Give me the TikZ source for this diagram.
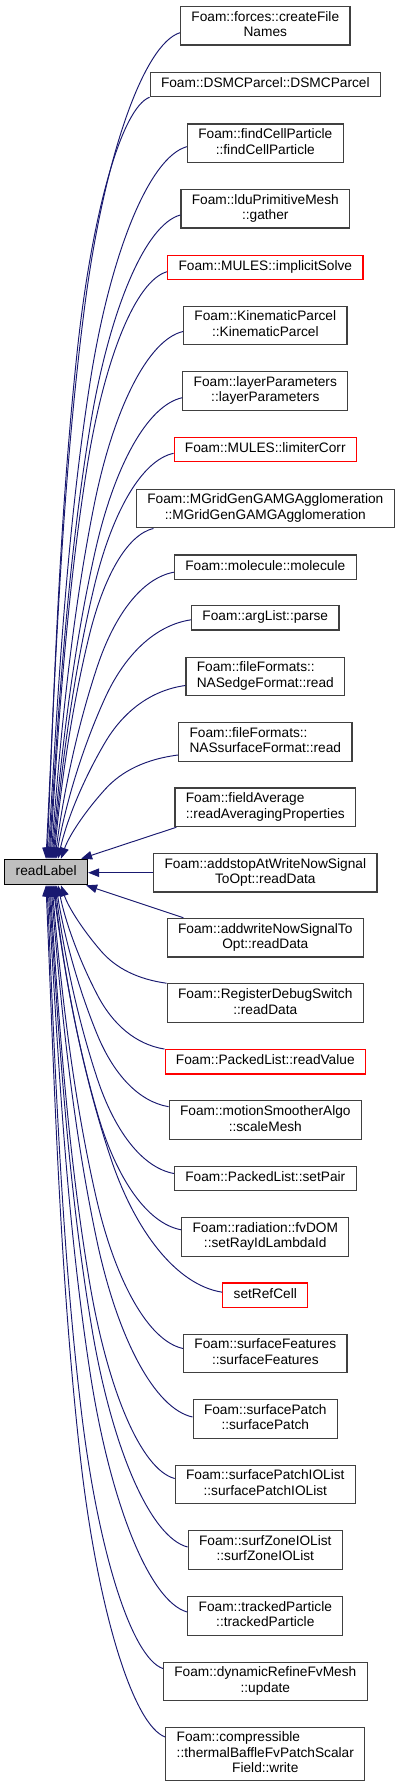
\documentclass[tikz,border=0pt]{standalone}
\usepackage{fontspec}
\setmainfont{Liberation Sans}
\usetikzlibrary{arrows.meta,calc}
\definecolor{edgeblue}{RGB}{25,25,112}
\definecolor{boxgray}{RGB}{64,64,64}
\definecolor{fillgray}{RGB}{191,191,191}
\newcommand\lone[1]{\begin{tabular}{@{}c@{}}#1\end{tabular}}
\newcommand\ltwo[2]{\begin{tabular}{@{}l@{}}#1\\\multicolumn{1}{@{}c@{}}{#2}\end{tabular}}
\newcommand\lthree[3]{\begin{tabular}{@{}l@{}}#1\\#2\\\multicolumn{1}{@{}c@{}}{#3}\end{tabular}}
\newcommand\upedge[2]{%
  \draw[edge] let \p1=(#1), \p2=([xshift=#2pt]R.north west),
    \n1={\x1-\x2}, \n2={\y1-\y2}, \n3={\n2/825},
    \n4={\x2+(0.39-0.1*\n3)*\n1}, \n5={\y1-0.33*\n2} in
    (\p1) .. controls ({\x1-0.27*\n1}, {\y1-3-0.01*\n2}) and ({\n4+0.144*\n1}, {\n5+0.18*\n2}) .. (\n4,\n5)
          .. controls ({\n4-0.176*\n1}, {\n5-0.22*\n2}) and ({\x2+0.068*\n1}, {\y2+0.22*\n2}) .. (\p2);}
\newcommand\downedge[2]{%
  \draw[edge] let \p1=(#1), \p2=([xshift=#2pt]R.south west),
    \n1={\x1-\x2}, \n2={\y2-\y1}, \n3={\n2/825},
    \n4={\x2+(0.39-0.1*\n3)*\n1}, \n5={\y1+0.33*\n2} in
    (\p1) .. controls ({\x1-0.27*\n1}, {\y1+3+0.01*\n2}) and ({\n4+0.144*\n1}, {\n5-0.18*\n2}) .. (\n4,\n5)
          .. controls ({\n4-0.176*\n1}, {\n5+0.22*\n2}) and ({\x2+0.068*\n1}, {\y2-0.22*\n2}) .. (\p2);}
\begin{document}
\begin{tikzpicture}[x=1pt,y=-1pt,
  box/.style={draw=boxgray, line width=1.2pt, inner xsep=10.85pt, inner ysep=0pt,
    font=\fontsize{13.7}{15.5}\selectfont},
  hone/.style={box, minimum height=24.3pt},
  htwo/.style={box, minimum height=38.7pt},
  hthree/.style={box, minimum height=53.3pt},
  redbox/.style={draw=red},
  edge/.style={draw=edgeblue, line width=0.95pt, -{Triangle[length=11pt,width=8.5pt]}},
]
\useasboundingbox (0,0) rectangle (400,1787);
\fill[white] (0,0) rectangle (400,1787);

\node[box, draw=black, fill=fillgray, minimum width=81.8pt, minimum height=25.4pt] (R) at (46.2,872) {\lone{readLabel}};

\node[htwo] (n1) at (265.3,25.7) {\ltwo{Foam::forces::createFile}{Names}};
\node[hone] (n2) at (265.3,84.5) {\lone{Foam::DSMCParcel::DSMCParcel}};
\node[htwo] (n3) at (265.3,143.3) {\ltwo{Foam::findCellParticle}{::findCellParticle}};
\node[htwo] (n4) at (265.3,208.7) {\ltwo{Foam::lduPrimitiveMesh}{::gather}};
\node[hone,redbox] (n5) at (265.3,267.3) {\lone{Foam::MULES::implicitSolve}};
\node[htwo] (n6) at (265.3,325.5) {\ltwo{Foam::KinematicParcel}{::KinematicParcel}};
\node[htwo] (n7) at (265.3,391) {\ltwo{Foam::layerParameters}{::layerParameters}};
\node[hone,redbox] (n8) at (265.3,449.7) {\lone{Foam::MULES::limiterCorr}};
\node[htwo] (n9) at (265.3,508.5) {\ltwo{Foam::MGridGenGAMGAgglomeration}{::MGridGenGAMGAgglomeration}};
\node[hone] (n10) at (265.3,567.2) {\lone{Foam::molecule::molecule}};
\node[hone] (n11) at (265.3,617.8) {\lone{Foam::argList::parse}};
\node[htwo] (n12) at (265.3,676.5) {\ltwo{Foam::fileFormats::}{NASedgeFormat::read}};
\node[htwo] (n13) at (265.3,742) {\ltwo{Foam::fileFormats::}{NASsurfaceFormat::read}};
\node[htwo] (n14) at (265.3,807.3) {\ltwo{Foam::fieldAverage}{::readAveragingProperties}};
\node[htwo] (n15) at (265.3,872.7) {\ltwo{Foam::addstopAtWriteNowSignal}{ToOpt::readData}};
\node[htwo] (n16) at (265.3,937.7) {\ltwo{Foam::addwriteNowSignalTo}{Opt::readData}};
\node[htwo] (n17) at (265.3,1003.2) {\ltwo{Foam::RegisterDebugSwitch}{::readData}};
\node[hone,redbox] (n18) at (265.3,1061.8) {\lone{Foam::PackedList::readValue}};
\node[htwo] (n19) at (265.3,1120.2) {\ltwo{Foam::motionSmootherAlgo}{::scaleMesh}};
\node[hone] (n20) at (265.3,1178.5) {\lone{Foam::PackedList::setPair}};
\node[htwo] (n21) at (265.3,1236.8) {\ltwo{Foam::radiation::fvDOM}{::setRayIdLambdaId}};
\node[hone,redbox] (n22) at (265.3,1295.2) {\lone{setRefCell}};
\node[htwo] (n23) at (265.3,1353.5) {\ltwo{Foam::surfaceFeatures}{::surfaceFeatures}};
\node[htwo] (n24) at (265.3,1419) {\ltwo{Foam::surfacePatch}{::surfacePatch}};
\node[htwo] (n25) at (265.3,1484.5) {\ltwo{Foam::surfacePatchIOList}{::surfacePatchIOList}};
\node[htwo] (n26) at (265.3,1550) {\ltwo{Foam::surfZoneIOList}{::surfZoneIOList}};
\node[htwo] (n27) at (265.3,1616) {\ltwo{Foam::trackedParticle}{::trackedParticle}};
\node[htwo] (n28) at (265.3,1681.5) {\ltwo{Foam::dynamicRefineFvMesh}{::update}};
\node[hthree] (n29) at (265.3,1754) {\lthree{Foam::compressible}{::thermalBaffleFvPatchScalar}{Field::write}};

\upedge{[yshift=-7pt]n1.west}{41.7}
\upedge{n2.south west}{42.7}
\upedge{[yshift=-3.4pt]n3.west}{43.7}
\upedge{[yshift=-6.3pt]n4.west}{44.7}
\upedge{[yshift=-4.4pt]n5.west}{45.7}
\upedge{[yshift=-6pt]n6.west}{46.7}
\upedge{[yshift=-6.7pt]n7.west}{47.7}
\upedge{[yshift=-3.6pt]n8.west}{48.7}
\upedge{[xshift=17.6pt]n9.south west}{49.7}
\upedge{[yshift=-5pt]n10.west}{50.7}
\upedge{[yshift=-2pt]n11.west}{51.7}
\upedge{[yshift=-9pt]n12.west}{53.7}
\upedge{[yshift=-13pt]n13.west}{56.7}

\draw[edge] ([xshift=2pt]n14.south west) -- ([xshift=-7pt]R.north east);
\draw[edge] (n15.west) -- (n15.west -| R.east);
\draw[edge] ([xshift=16.7pt]n16.north west) -- ([xshift=-2pt]R.south east);

\downedge{n17.north west}{56.7}
\downedge{n18.north west}{53.7}
\downedge{[yshift=13.5pt]n19.west}{51.7}
\downedge{[yshift=5pt]n20.west}{50.7}
\downedge{[yshift=7pt]n21.west}{49.7}
\downedge{[yshift=3pt]n22.west}{48.7}
\downedge{[yshift=5pt]n23.west}{47.7}
\downedge{[yshift=2pt]n24.west}{46.7}
\downedge{[yshift=6pt]n25.west}{45.7}
\downedge{[yshift=3pt]n26.west}{44.7}
\downedge{[yshift=4pt]n27.west}{43.7}
\downedge{[yshift=13pt]n28.west}{42.7}
\downedge{[yshift=17pt]n29.west}{41.7}
\end{tikzpicture}
\end{document}
